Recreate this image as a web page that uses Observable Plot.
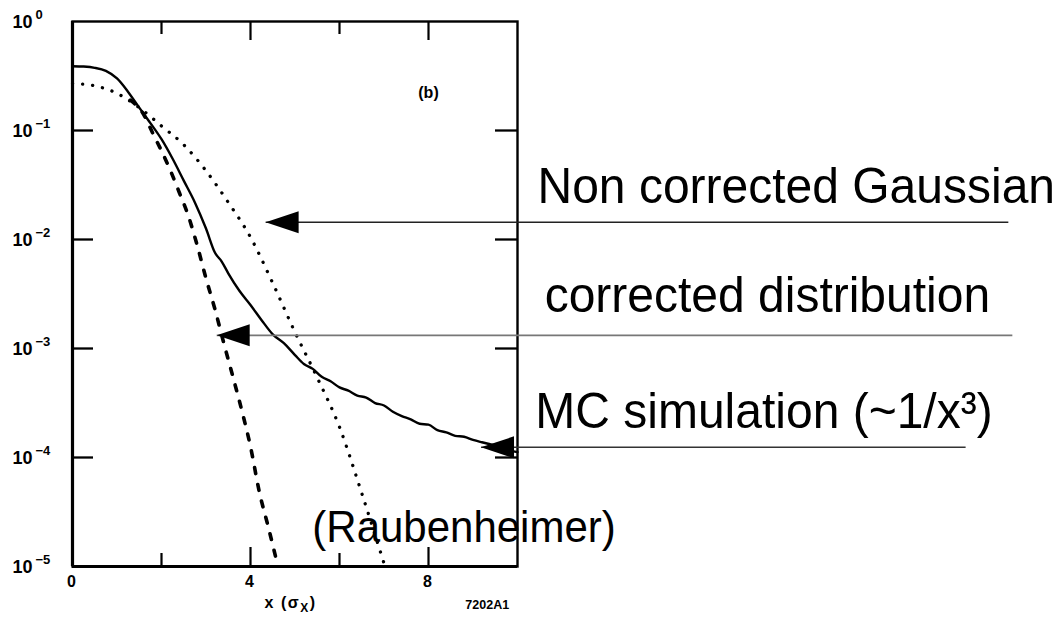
<!DOCTYPE html>
<html>
<head>
<meta charset="utf-8">
<script src="https://cdn.jsdelivr.net/npm/d3@7"></script>
<script src="https://cdn.jsdelivr.net/npm/@observablehq/plot@0.6"></script>
<style>
  html, body { margin: 0; padding: 0; background: #fff; }
  #chart svg { display: block; }
</style>
</head>
<body>
<div id="chart"></div>
<script>
// ---- Data ----
// MC simulation (solid line)
const mcX = [0, 0.25, 0.5, 0.75, 1.0, 1.25, 1.5, 1.75, 2.0, 2.25, 2.5, 2.75, 3.0, 3.2, 3.35, 3.5, 3.75, 4.0, 4.25, 4.5, 4.75,
             5.0, 5.2, 5.4, 5.6, 5.8, 6.0, 6.2, 6.4, 6.6, 6.8, 7.0, 7.2, 7.4, 7.6, 7.8, 8.0, 8.2, 8.4, 8.6, 8.8, 9.0, 9.2, 9.4, 9.6, 9.8, 10.0];
const mcY = [0.389, 0.386, 0.376, 0.352, 0.300, 0.226, 0.162, 0.117, 0.0832, 0.0550, 0.0347, 0.0219, 0.0126, 0.00759, 0.00631, 0.00490, 0.00339, 0.00251, 0.00182, 0.00135, 0.00112,
             8.7e-4, 7.2e-4, 6.5e-4, 5.5e-4, 5.0e-4, 4.4e-4, 4.1e-4, 3.7e-4, 3.55e-4, 3.16e-4, 3.0e-4, 2.63e-4, 2.4e-4, 2.24e-4, 2.04e-4, 2.0e-4, 1.78e-4, 1.70e-4, 1.58e-4, 1.55e-4, 1.45e-4, 1.38e-4, 1.32e-4, 1.26e-4, 1.17e-4, 1.12e-4];
// Non corrected Gaussian (dotted)
const gaussX = [0, 0.5, 1.0, 1.5, 2.0, 2.5, 3.0, 3.5, 4.0, 4.5, 5.0, 5.5, 6.0, 6.5, 7.0];
const gaussY = [0.27, 0.257, 0.219, 0.162, 0.110, 0.074, 0.0427, 0.0219, 0.0105, 0.00398, 0.00141, 5.4e-4, 1.9e-4, 4.7e-5, 1.07e-5];
// corrected distribution (dashed)
const corrX = [1.3, 1.6, 1.8, 2.0, 2.2, 2.4, 2.6, 2.8, 3.0, 3.2, 3.4, 3.6, 3.8, 4.0, 4.2, 4.4, 4.6];
const corrY = [0.19, 0.14, 0.095, 0.065, 0.043, 0.027, 0.0166, 0.0089, 0.0044, 0.0023, 0.00112, 5.6e-4, 2.75e-4, 1.26e-4, 4.8e-5, 2.3e-5, 1.07e-5];

// Axis ticks
const yTickValues = [1, 1e-1, 1e-2, 1e-3, 1e-4, 1e-5];
const yTickExponents = ["0", "\u22121", "\u22122", "\u22123", "\u22124", "\u22125"];
const yInnerTicks = [1e-1, 1e-2, 1e-3, 1e-4];
const xLabelValues = [0, 4, 8];
const xMajorTicks = [4, 8];
const xMinorTicks = [2, 6];

// Annotations (positions in data units)
const noteTexts = ["Non corrected Gaussian", "corrected distribution", "MC simulation (~1/x\u00B3)"];
const noteX = [10.45, 10.61, 10.40];
const noteY = [0.0218, 0.00215, 1.88e-4];
const raubText = ["(Raubenheimer)"];
const raubX = [5.39];
const raubY = [1.67e-5];
const arrowTipX = [4.34, 3.24, 9.18];
const arrowTipY = [0.0144, 1.32e-3, 1.24e-4];
const arrowEndX = [21.03, 21.12, 20.07];
const panelLabel = ["(b)"];
const panelX = [8.0];
const panelY = [0.221];
const xAxisLabel = ["x (\u03C3X)"];
const xAxisLabelX = [4.9];
const figureCode = ["7202A1"];
const figureCodeX = [9.32];

// ---- Build tables ----
const mc = mcX.map((x, i) => ({x, y: mcY[i]}));
const gauss = gaussX.map((x, i) => ({x, y: gaussY[i]}));
const corr = corrX.map((x, i) => ({x, y: corrY[i]}));
const yTicks = yTickValues.map((v, i) => ({v, e: yTickExponents[i]}));
const notes = noteTexts.map((t, i) => ({t, x: noteX[i], y: noteY[i]}));
const raub = raubText.map((t, i) => ({t, x: raubX[i], y: raubY[i]}));
const arrows = arrowTipX.map((x, i) => ({x, y: arrowTipY[i], x2: arrowEndX[i], i}));

const arrowHead = {
  draw(context) {
    context.moveTo(0, 0);
    context.lineTo(33, -11);
    context.lineTo(33, 11);
    context.closePath();
  }
};

const FONT = "'Liberation Sans', Arial, Helvetica, sans-serif";
const frameW = 1056 - 72 - 539;
const frameH = 625 - 21 - 59;

const chart = Plot.plot({
  width: 1056,
  height: 625,
  marginLeft: 72,
  marginRight: 539,
  marginTop: 21,
  marginBottom: 59,
  style: {fontFamily: FONT, background: "#fff", color: "#000", overflow: "visible"},
  x: {domain: [0, 10], axis: null},
  y: {type: "log", domain: [1e-5, 1], axis: null},
  marks: [
    // curves
    Plot.line(gauss, {x: "x", y: "y", stroke: "#000", strokeWidth: 3.3, strokeDasharray: "0.1,10", strokeLinecap: "round", curve: "monotone-x"}),
    Plot.line(corr, {x: "x", y: "y", stroke: "#000", strokeWidth: 3.6, strokeDasharray: "6,11", curve: "monotone-x"}),
    Plot.line(mc, {x: "x", y: "y", stroke: "#000", strokeWidth: 2.4, curve: "monotone-x"}),
    // annotation texts
    Plot.text(notes, {x: "x", y: "y", text: "t", textAnchor: "start", lineAnchor: "bottom", fontSize: 48, fill: "#000"}),
    Plot.text(raub, {x: "x", y: "y", text: "t", textAnchor: "start", lineAnchor: "bottom", fontSize: 42, fill: "#000"}),
    // frame and ticks
    Plot.frame({stroke: "#000", strokeWidth: 2.4}),
    Plot.ruleX([0], {stroke: "#000", strokeWidth: 3.2}),
    Plot.ruleY([1e-5], {stroke: "#000", strokeWidth: 3.2}),
    Plot.tickY(yInnerTicks, {y: d => d, stroke: "#000", strokeWidth: 2.3, insetRight: frameW - 21}),
    Plot.tickY(yInnerTicks, {y: d => d, stroke: "#000", strokeWidth: 2.3, insetLeft: frameW - 22}),
    Plot.tickX(xMajorTicks, {x: d => d, stroke: "#000", strokeWidth: 2.2, insetTop: frameH - 19}),
    Plot.tickX(xMinorTicks, {x: d => d, stroke: "#000", strokeWidth: 2.2, insetTop: frameH - 13}),
    Plot.tickX(xMajorTicks, {x: d => d, stroke: "#000", strokeWidth: 2.2, insetBottom: frameH - 19}),
    Plot.tickX(xMinorTicks, {x: d => d, stroke: "#000", strokeWidth: 2.2, insetBottom: frameH - 13}),
    // arrows
    Plot.link(arrows, {x1: "x", y1: "y", x2: "x2", y2: "y", stroke: d => ["#222", "#777", "#333"][d.i], strokeWidth: d => [1.3, 1.6, 1.5][d.i]}),
    Plot.dot(arrows, {x: "x", y: "y", symbol: arrowHead, fill: "#000", stroke: "none", r: 5}),
    // tick labels
    Plot.text(yTicks, {y: "v", text: () => "10", frameAnchor: "left", dx: -60, dy: 1, textAnchor: "start", fontSize: 18, fontWeight: "bold", fill: "#000"}),
    Plot.text(yTicks, {y: "v", text: "e", frameAnchor: "left", dx: -37, dy: -7, textAnchor: "start", fontSize: 13, fontWeight: "bold", fill: "#000"}),
    Plot.text(xLabelValues, {x: d => d, text: d => String(d), frameAnchor: "bottom", dy: 20, dx: -1, fontSize: 16, fontWeight: "bold", fill: "#000"}),
    Plot.text(xAxisLabel.map((t, i) => ({t, x: xAxisLabelX[i]})), {x: "x", text: "t", frameAnchor: "bottom", dy: 41, lineAnchor: "bottom", fontSize: 16, fontWeight: "bold", fill: "#000"}),
    Plot.text(figureCode.map((t, i) => ({t, x: figureCodeX[i]})), {x: "x", text: "t", frameAnchor: "bottom", dy: 42, lineAnchor: "bottom", fontSize: 12.5, fontWeight: "bold", fill: "#000"}),
    Plot.text(panelLabel.map((t, i) => ({t, x: panelX[i], y: panelY[i]})), {x: "x", y: "y", text: "t", fontSize: 16, fontWeight: "bold", fill: "#000"})
  ]
});

document.getElementById("chart").appendChild(chart);

const bigTexts = new Set([...noteTexts, ...raubText]);
d3.select(chart).selectAll("text").each(function() {
  const s = d3.select(this);
  // subscript X in the axis label
  if (this.textContent === "x (\u03C3X)") {
    s.text(null).attr("letter-spacing", 1.5);
    s.append("tspan").text("x (\u03C3");
    s.append("tspan").attr("font-size", 12).attr("dy", 4).text("X");
    s.append("tspan").attr("dy", -4).text(")");
  }
  // the reference's large annotation glyphs are slightly taller than wide
  if (bigTexts.has(this.textContent)) {
    const t = s.attr("transform");
    if (t) s.attr("transform", t + " scale(1,1.06)");
  }
});
</script>
</body>
</html>
